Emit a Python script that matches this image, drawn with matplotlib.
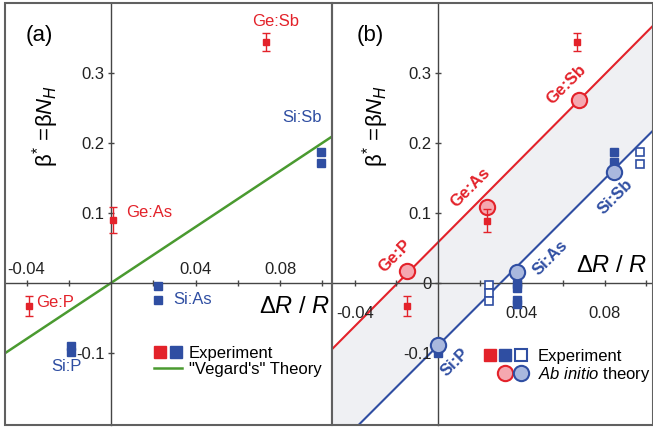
import numpy as np
import matplotlib.pyplot as plt
from matplotlib.lines import Line2D
from matplotlib.patches import Rectangle
from matplotlib.legend_handler import HandlerTuple

plt.rcParams['font.family'] = ['Liberation Sans', 'DejaVu Sans']
plt.rcParams['mathtext.fontset'] = 'custom'
plt.rcParams['mathtext.rm'] = 'Liberation Sans'
plt.rcParams['mathtext.it'] = 'Liberation Sans:italic'
plt.rcParams['mathtext.bf'] = 'Liberation Sans:bold'

RED = '#e3222a'
BLUE = '#2f4ea2'
GREEN = '#4a9a30'
PINK = '#f5a8b0'
LBLUE = '#a9b8de'
AXC = '#454545'

# ---- panel (a) data ----
a_ge_x = [-0.039, 0.001, 0.0734]      # Ge:P, Ge:As, Ge:Sb
a_ge_y = [-0.033, 0.090, 0.344]
a_ge_err = [0.014, 0.018, 0.013]
a_si_x = [-0.019, -0.019, 0.0223, 0.0223, 0.0994, 0.0994]   # Si:P, Si:As, Si:Sb
a_si_y = [-0.090, -0.099, -0.005, -0.024, 0.187, 0.171]
vegard_x = [-0.06, 0.11]
vegard_y = [-0.12, 0.22]

# ---- panel (b) data ----
b_ge_x = [-0.015, 0.0235, 0.0667]
b_ge_y = [-0.033, 0.089, 0.344]
b_ge_err = [0.014, 0.016, 0.013]
b_si_x = [0.0, 0.0, 0.038, 0.038, 0.038, 0.038, 0.0845, 0.0845, 0.0845]
b_si_y = [-0.090, -0.100, -0.002, -0.007, -0.025, -0.030, 0.187, 0.173, 0.162]
b_si_open_x = [0.0245, 0.0245, 0.0245, 0.097, 0.097]
b_si_open_y = [-0.003, -0.014, -0.026, 0.187, 0.170]
b_ge_th_x = [-0.015, 0.0235, 0.0677]
b_ge_th_y = [0.017, 0.109, 0.261]
b_si_th_x = [0.0, 0.038, 0.0845]
b_si_th_y = [-0.088, 0.015, 0.159]
line_x = [-0.06, 0.11]
ge_line_y = [-0.122, 0.388]
si_line_y = [-0.268, 0.238]

W, H = 653, 429
fig = plt.figure(figsize=(W / 100, H / 100), dpi=100)
ax_a = fig.add_axes([5 / W, 4 / H, 327 / W, 422 / H])
ax_b = fig.add_axes([332 / W, 4 / H, 321 / W, 422 / H])


def setup(ax, xlim, labels_above, yticks, yticklabels):
    ax.set_xlim(*xlim)
    ax.set_ylim(-0.203, 0.40)
    for s in ['left', 'bottom', 'top']:
        ax.spines[s].set_position(('data', 0))
        ax.spines[s].set_color(AXC)
        ax.spines[s].set_linewidth(1.0)
    ax.spines['right'].set_visible(False)
    ax.spines['top'].set_visible(labels_above)
    ax.spines['bottom'].set_visible(not labels_above)
    ax.add_patch(Rectangle((0, 0), 1, 1, transform=ax.transAxes, fill=False,
                           ec='#606060', lw=1.5, clip_on=False, zorder=10))
    xt = [-0.04, -0.02, 0.02, 0.04, 0.06, 0.08, 0.10]
    xl = ['-0.04', '', '', '0.04', '', '0.08', '']
    ax.set_xticks(xt)
    ax.set_xticklabels(xl)
    ax.set_yticks(yticks)
    ax.set_yticklabels(yticklabels)
    ax.tick_params(direction='inout', length=5, width=1, color=AXC,
                   labelsize=12, labelcolor='#222222')
    if labels_above:
        ax.tick_params(axis='x', bottom=False, labelbottom=False, top=True,
                       labeltop=True, pad=2)
    else:
        ax.tick_params(axis='x', pad=14)
    ax.tick_params(axis='y', pad=2)
    ax.patch.set_alpha(0)


setup(ax_a, (-0.0502, 0.1046), True, [-0.1, 0.1, 0.2, 0.3],
      ['-0.1', '0.1', '0.2', '0.3'])
setup(ax_b, (-0.0509, 0.1032), False, [-0.1, 0, 0.1, 0.2, 0.3],
      ['-0.1', '0', '0.1', '0.2', '0.3'])

ylab = r'$\mathrm{\beta}^{*}\, =\! \mathrm{\beta} N_H$'
xlab = r'$\Delta R\ /\ R$'

# ---- panel (a) ----
ax = ax_a
ax.plot(vegard_x, vegard_y, color=GREEN, lw=1.8, zorder=2)
ax.plot(a_si_x, a_si_y, ls='none', marker='s', ms=6, color=BLUE, zorder=3)
ax.errorbar(a_ge_x, a_ge_y, yerr=a_ge_err, ls='none', marker='s', ms=5,
            color=RED, capsize=3, elinewidth=1, capthick=1, zorder=4)
ax.text(0.104, 0.922, '(a)', transform=ax.transAxes, fontsize=16,
        ha='center', va='center')
ax.text(0.125, 0.7085, ylab, transform=ax.transAxes, fontsize=16,
        rotation=90, ha='center', va='center')
ax.text(0.884, 0.2796, xlab, transform=ax.transAxes, fontsize=17,
        ha='center', va='center')
for name, x, y, c, ha in [('Ge:Sb', 0.0777, 0.374, RED, 'center'),
                          ('Si:Sb', 0.0904, 0.236, BLUE, 'center'),
                          ('Ge:As', 0.0071, 0.100, RED, 'left'),
                          ('Ge:P', -0.0355, -0.0286, RED, 'left'),
                          ('Si:As', 0.0294, -0.024, BLUE, 'left'),
                          ('Si:P', -0.0213, -0.119, BLUE, 'center')]:
    ax.text(x, y, name, color=c, fontsize=12, ha=ha, va='center')

sq_r = Line2D([], [], ls='none', marker='s', ms=8.5, color=RED)
sq_b = Line2D([], [], ls='none', marker='s', ms=8.5, color=BLUE)
vg = Line2D([], [], color=GREEN, lw=1.8)
ax.legend([(sq_r, sq_b), vg], ['Experiment', '"Vegard\'s" Theory'],
          handler_map={tuple: HandlerTuple(ndivide=None, pad=0.2)},
          loc='upper left', bbox_to_anchor=(0.4557, 0.187), frameon=False,
          borderpad=0, borderaxespad=0, handlelength=1.7, handletextpad=0.4,
          labelspacing=0.05, fontsize=12)

# ---- panel (b) ----
ax = ax_b
ax.fill_between(line_x, si_line_y, ge_line_y, color='#eff0f3', lw=0, zorder=0)
ax.plot(line_x, ge_line_y, color=RED, lw=1.5, zorder=1)
ax.plot(line_x, si_line_y, color=BLUE, lw=1.5, zorder=1)
ax.plot(b_si_x, b_si_y, ls='none', marker='s', ms=6, color=BLUE, zorder=3)
ax.plot(b_si_open_x, b_si_open_y, ls='none', marker='s', ms=6, mfc='white',
        mec=BLUE, mew=1.2, zorder=3)
ax.plot(b_ge_th_x, b_ge_th_y, ls='none', marker='o', ms=11, mfc=PINK,
        mec=RED, mew=1.5, zorder=4)
ax.plot(b_si_th_x, b_si_th_y, ls='none', marker='o', ms=11, mfc=LBLUE,
        mec=BLUE, mew=1.5, zorder=4)
ax.errorbar(b_ge_x, b_ge_y, yerr=b_ge_err, ls='none', marker='s', ms=5,
            color=RED, capsize=3, elinewidth=1, capthick=1, zorder=5)
ax.text(0.118, 0.922, '(b)', transform=ax.transAxes, fontsize=16,
        ha='center', va='center')
ax.text(0.137, 0.7085, ylab, transform=ax.transAxes, fontsize=16,
        rotation=90, ha='center', va='center')
ax.text(0.872, 0.377, xlab, transform=ax.transAxes, fontsize=17,
        ha='center', va='center')
for name, x, y, c in [('Ge:Sb', 0.0619, 0.284, RED),
                      ('Ge:As', 0.0154, 0.136, RED),
                      ('Ge:P', -0.0206, 0.0386, RED),
                      ('Si:Sb', 0.0850, 0.123, BLUE),
                      ('Si:As', 0.0538, 0.0357, BLUE),
                      ('Si:P', 0.0082, -0.113, BLUE)]:
    ax.text(x, y, name, color=c, fontsize=12, fontweight='bold', rotation=45,
            rotation_mode='anchor', ha='center', va='center')

sq_o = Line2D([], [], ls='none', marker='s', ms=8.5, mfc='white', mec=BLUE,
              mew=1.5)
blank = Line2D([], [], ls='none')
ci_r = Line2D([], [], ls='none', marker='o', ms=11, mfc=PINK, mec=RED, mew=1.5)
ci_b = Line2D([], [], ls='none', marker='o', ms=11, mfc=LBLUE, mec=BLUE,
              mew=1.5)
ax.legend([(sq_r, sq_b, sq_o), (blank, ci_r, ci_b)],
          ['Experiment', r'$\it{Ab\ initio}$ theory'],
          handler_map={tuple: HandlerTuple(ndivide=None, pad=0.1)},
          loc='upper left', bbox_to_anchor=(0.470, 0.180), frameon=False,
          borderpad=0, borderaxespad=0, handlelength=2.7, handletextpad=0.6,
          labelspacing=0.05, fontsize=12)

fig.savefig('out.png', dpi=100)
